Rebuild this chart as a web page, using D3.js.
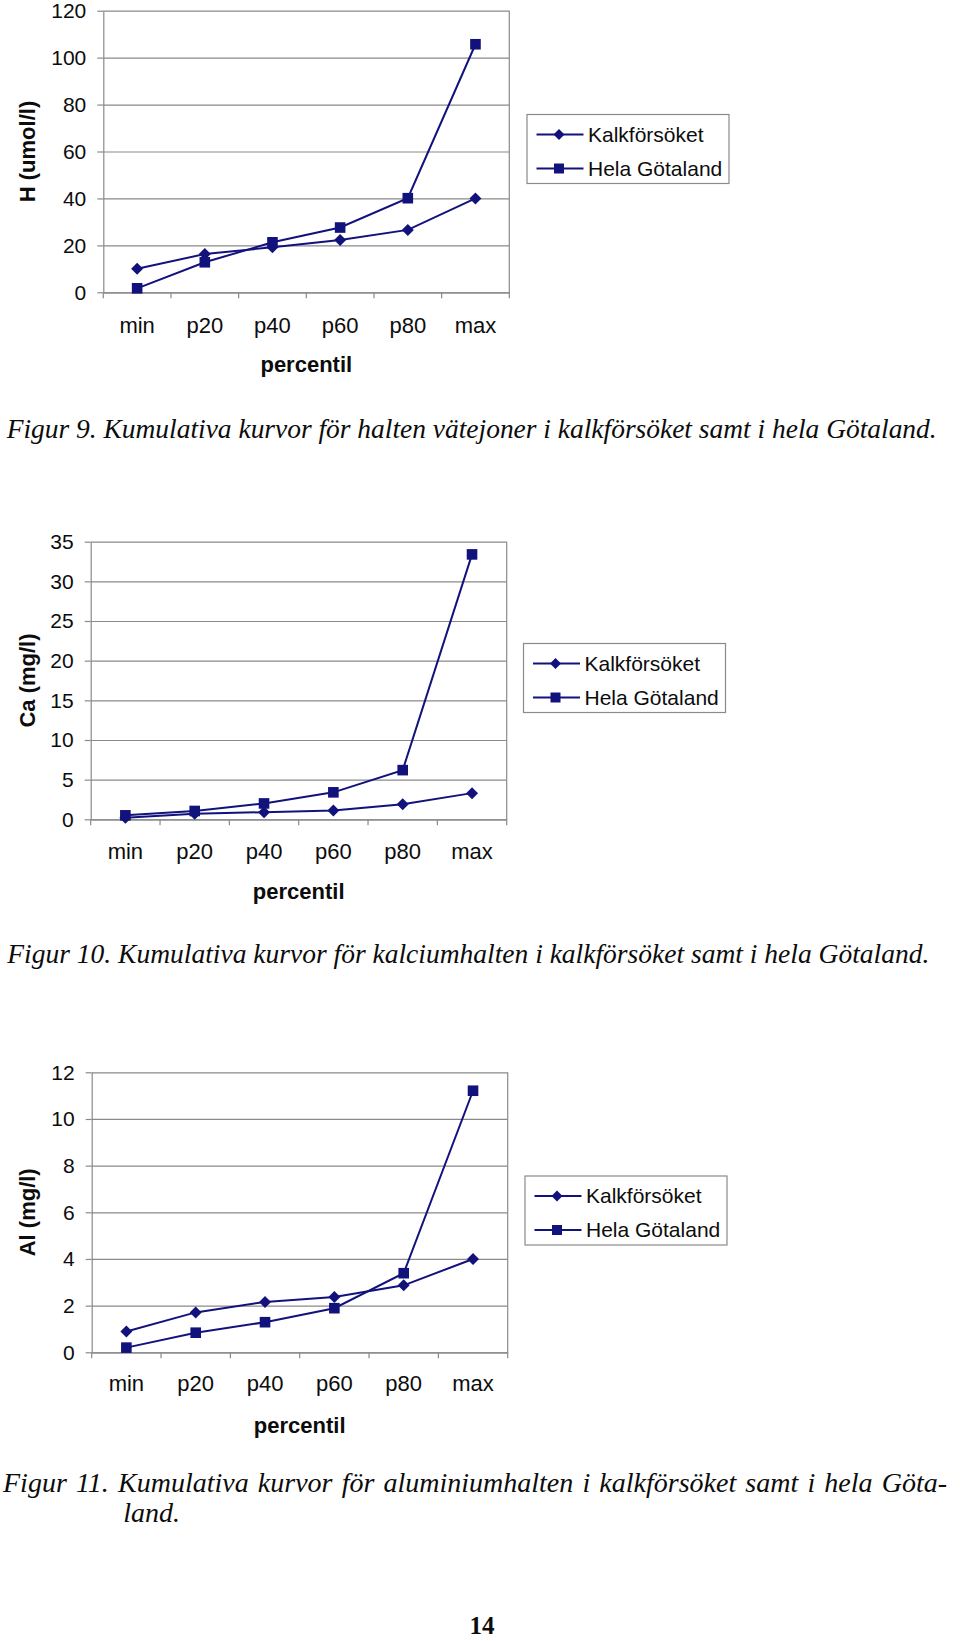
<!DOCTYPE html>
<html>
<head>
<meta charset="utf-8">
<script src="https://cdn.jsdelivr.net/npm/d3@7"></script>
<style>
  html, body { margin: 0; padding: 0; background: #fff; }
  svg { display: block; }
</style>
</head>
<body>
<svg id="page" width="960" height="1641"></svg>
<script>
// ---------- DATA ----------
const categories = ["min", "p20", "p40", "p60", "p80", "max"];
const seriesNames = ["Kalkförsöket", "Hela Götaland"];

const hKalk = [10, 16.3, 19.2, 22.3, 26.6, 40];
const hGot  = [1.7, 12.8, 21.3, 27.6, 40.1, 105.7];
const hTicks = [0, 20, 40, 60, 80, 100, 120];

const caKalk = [0.2, 0.7, 0.9, 1.1, 1.9, 3.3];
const caGot  = [0.5, 1.05, 2.0, 3.4, 6.2, 33.4];
const caTicks = [0, 5, 10, 15, 20, 25, 30, 35];

const alKalk = [0.89, 1.71, 2.16, 2.37, 2.87, 4.0];
const alGot  = [0.2, 0.84, 1.29, 1.89, 3.39, 11.21];
const alTicks = [0, 2, 4, 6, 8, 10, 12];

const yTitles = ["H (umol/l)", "Ca (mg/l)", "Al (mg/l)"];
const xTitle = "percentil";
const caption1 = "Figur 9. Kumulativa kurvor för halten vätejoner i kalkförsöket samt i hela Götaland.";
const caption2 = "Figur 10. Kumulativa kurvor för kalciumhalten i kalkförsöket samt i hela Götaland.";
const caption3a = "Figur 11. Kumulativa kurvor för aluminiumhalten i kalkförsöket samt i hela Göta-";
const caption3b = "land.";
const pageNumber = "14";

// ---------- STYLE ----------
const navy = "#12127c";
const gridColor = "#8a8a8a";
const textColor = "#0c0c0c";
const sans = "'Liberation Sans', Arial, sans-serif";
const serif = "'Liberation Serif', 'Times New Roman', serif";
const fs = 22;
const tickFs = 21;
const legendFs = 21;

const svg = d3.select("#page");

function diamondPath(r) {
  return `M0,${-r}L${r},0L0,${r}L${-r},0Z`;
}
function squarePath(h) {
  return `M${-h},${-h}H${h}V${h}H${-h}Z`;
}

function drawChart(cfg) {
  const g = svg.append("g");
  const x = d3.scaleBand().domain(categories).range([cfg.left, cfg.right]).padding(0);
  const y = d3.scaleLinear().domain([0, cfg.ticks[cfg.ticks.length - 1]]).range([cfg.bottom, cfg.top]);
  const bw = x.bandwidth();
  const cx = c => x(c) + bw / 2;

  // gridlines
  const grid = g.append("g")
    .attr("transform", `translate(${cfg.left},0)`)
    .call(d3.axisLeft(y).tickValues(cfg.ticks).tickSize(-(cfg.right - cfg.left)).tickFormat(""));
  grid.select(".domain").remove();
  grid.selectAll("line").attr("stroke", gridColor).attr("stroke-width", 1.2);

  // right border of plot area
  g.append("line")
    .attr("x1", cfg.right).attr("x2", cfg.right)
    .attr("y1", y(cfg.ticks[cfg.ticks.length - 1])).attr("y2", y(0))
    .attr("stroke", gridColor).attr("stroke-width", 1.2);

  // y axis
  const ya = g.append("g")
    .attr("transform", `translate(${cfg.left},0)`)
    .call(d3.axisLeft(y).tickValues(cfg.ticks).tickSize(6).tickPadding(11).tickSizeOuter(0));
  ya.select(".domain").attr("stroke", gridColor).attr("stroke-width", 1.2);
  ya.selectAll("line").attr("stroke", gridColor).attr("stroke-width", 1.2);
  ya.selectAll("text").attr("font-family", sans).attr("font-size", tickFs).attr("fill", textColor);

  // x axis: domain and ticks at category boundaries
  const xa = g.append("g")
    .attr("transform", `translate(0,${y(0)})`)
    .call(d3.axisBottom(x).tickSize(0).tickPadding(0).tickSizeOuter(0).tickFormat(""));
  xa.select(".domain").attr("stroke", gridColor).attr("stroke-width", 1.2);
  const bounds = categories.map(c => x(c)).concat([x.range()[1]]);
  g.selectAll(null).data(bounds).enter().append("line")
    .attr("x1", d => d).attr("x2", d => d)
    .attr("y1", y(0)).attr("y2", y(0) + 6)
    .attr("stroke", gridColor).attr("stroke-width", 1.2);

  // x labels
  g.selectAll(null).data(categories).enter().append("text")
    .attr("x", d => cx(d)).attr("y", y(0) + cfg.xLabelDy)
    .attr("dy", "0.35em").attr("text-anchor", "middle")
    .attr("font-family", sans).attr("font-size", fs).attr("fill", textColor)
    .text(d => d);

  // axis titles
  g.append("text")
    .attr("x", (cfg.left + cfg.right) / 2).attr("y", y(0) + cfg.xTitleDy)
    .attr("dy", "0.35em").attr("text-anchor", "middle")
    .attr("font-family", sans).attr("font-size", fs).attr("font-weight", "bold")
    .attr("fill", textColor).text(xTitle);
  const ymid = (cfg.top + cfg.bottom) / 2;
  g.append("text")
    .attr("transform", `translate(${cfg.yTitleX},${ymid}) rotate(-90)`)
    .attr("dy", "0.35em").attr("text-anchor", "middle")
    .attr("font-family", sans).attr("font-size", fs).attr("font-weight", "bold")
    .attr("fill", textColor).text(cfg.yTitle);

  // series
  const line = d3.line().x((d, i) => cx(categories[i])).y(d => y(d));
  const series = [
    { values: cfg.kalk, shape: diamondPath(6) },
    { values: cfg.got, shape: squarePath(5.3) }
  ];
  series.forEach(s => {
    g.append("path").attr("d", line(s.values))
      .attr("fill", "none").attr("stroke", navy).attr("stroke-width", 2);
  });
  series.forEach(s => {
    g.selectAll(null).data(s.values).enter().append("path")
      .attr("transform", (d, i) => `translate(${cx(categories[i])},${y(d)})`)
      .attr("d", s.shape).attr("fill", navy);
  });

  // legend
  const L = cfg.legend;
  const lg = g.append("g").attr("transform", `translate(${L.x},${L.y})`);
  lg.append("rect").attr("x", 0).attr("y", 0).attr("width", 202).attr("height", 69)
    .attr("fill", "#fff").attr("stroke", gridColor).attr("stroke-width", 1.2);
  const rows = [20, 54];
  series.forEach((s, i) => {
    lg.append("line").attr("x1", 9.5).attr("x2", 56.5).attr("y1", rows[i]).attr("y2", rows[i])
      .attr("stroke", navy).attr("stroke-width", 2);
    lg.append("path").attr("transform", `translate(32,${rows[i]})`)
      .attr("d", i === 0 ? diamondPath(5.5) : squarePath(5)).attr("fill", navy);
    lg.append("text").attr("x", 61).attr("y", rows[i]).attr("dy", "0.35em")
      .attr("font-family", sans).attr("font-size", legendFs).attr("fill", textColor)
      .text(seriesNames[i]);
  });
}

drawChart({
  left: 103.3, right: 509.3, top: 10.7, bottom: 292.3,
  ticks: hTicks, kalk: hKalk, got: hGot, yTitle: yTitles[0],
  xLabelDy: 32.7, xTitleDy: 71.7, yTitleX: 27,
  legend: { x: 527, y: 114.5 }
});
drawChart({
  left: 90.7, right: 506.7, top: 541.7, bottom: 819.3,
  ticks: caTicks, kalk: caKalk, got: caGot, yTitle: yTitles[1],
  xLabelDy: 32.4, xTitleDy: 72.4, yTitleX: 27,
  legend: { x: 523.5, y: 643.5 }
});
drawChart({
  left: 91.7, right: 507.7, top: 1072.3, bottom: 1352.3,
  ticks: alTicks, kalk: alKalk, got: alGot, yTitle: yTitles[2],
  xLabelDy: 30.7, xTitleDy: 72.7, yTitleX: 27,
  legend: { x: 525, y: 1176 }
});

// captions
function caption(text, x, y, width) {
  const t = svg.append("text").attr("x", x).attr("y", y)
    .attr("font-family", serif).attr("font-style", "italic").attr("font-size", 28)
    .attr("fill", textColor).text(text);
  if (width) t.attr("textLength", width).attr("lengthAdjust", "spacingAndGlyphs");
  return t;
}
caption(caption1, 6.7, 438.3, 930);
caption(caption2, 7.3, 963, 922);
const c3 = caption(caption3a, 3, 1491.7, null);
{
  const natural = c3.node().getComputedTextLength();
  const nGaps = caption3a.split(" ").length - 1;
  const target = 944;
  const ws = (target - natural) / nGaps;
  c3.style("word-spacing", ws + "px");
}
caption(caption3b, 123.3, 1521.7, null);

svg.append("text").attr("x", 482).attr("y", 1634).attr("text-anchor", "middle")
  .attr("font-family", serif).attr("font-weight", "bold").attr("font-size", 25)
  .attr("fill", textColor).text(pageNumber);
</script>
</body>
</html>
